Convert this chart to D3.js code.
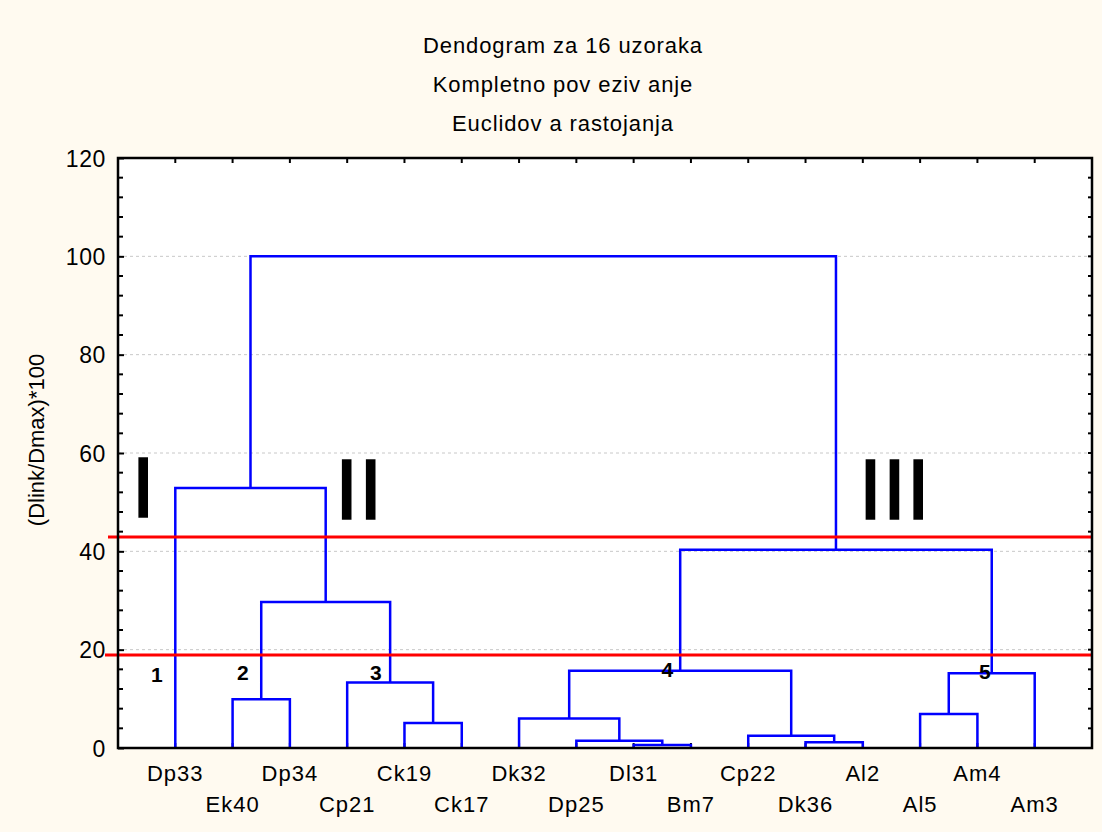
<!DOCTYPE html>
<html>
<head>
<meta charset="utf-8">
<script src="https://cdn.jsdelivr.net/npm/d3@7"></script>
<style>
  body { margin: 0; background: #fffaf0; }
  text { font-family: "Liberation Sans", Arial, sans-serif; fill: #000; }
</style>
</head>
<body>
<div id="chart"></div>
<script>
// ---- data ----
var titleLines = ["Dendogram za 16 uzoraka", "Kompletno pov eziv anje", "Euclidov a rastojanja"];
var yTitle = "(Dlink/Dmax)*100";
var leaves = ["Dp33","Ek40","Dp34","Cp21","Ck19","Ck17","Dk32","Dp25","Dl31","Bm7","Cp22","Dk36","Al2","Al5","Am4","Am3"];
// merges: [child a, child b, height]; ids < 16 are leaves, merge k gets id 16+k
var merges = [
  [4, 5, 5.1],
  [8, 9, 0.6],
  [11, 12, 1.15],
  [7, 17, 1.5],
  [10, 18, 2.5],
  [6, 19, 6.0],
  [13, 14, 6.9],
  [1, 2, 9.9],
  [3, 16, 13.3],
  [22, 15, 15.2],
  [21, 20, 15.7],
  [23, 24, 29.7],
  [26, 25, 40.3],
  [0, 27, 52.9],
  [29, 28, 100]
];
var yTicks = [0, 20, 40, 60, 80, 100, 120];
var cutLevels = [42.9, 18.9];
var groupNames = ["I", "II", "III"];
var groupPos = [[0.44, 46.9], [4.2, 46.5], [13.55, 46.5]];   // leaf units, value
var clusterNums = ["1", "2", "3", "4", "5"];
var clusterPos = [[0.68, 13.5], [2.18, 13.8], [4.5, 13.8], [9.59, 14.4], [15.13, 14.0]];

// ---- layout ----
var W = 1102, H = 832;
var pLeft = 118, pRight = 1092, pTop = 158, pBottom = 748;

var svg = d3.select('#chart').append('svg').attr('width', W).attr('height', H);
svg.append('rect').attr('width', W).attr('height', H).attr('fill', '#fffaf0');

var x = d3.scaleLinear().domain([0, leaves.length + 1]).range([pLeft, pRight]);
var y = d3.scaleLinear().domain([0, 120]).range([pBottom, pTop]);

// plot area
svg.append('rect').attr('x', pLeft).attr('y', pTop).attr('width', pRight - pLeft).attr('height', pBottom - pTop)
   .attr('fill', '#fff');

// grid lines
svg.append('g').selectAll('line').data(yTicks.filter(function(d){ return d > 0 && d < 120; }))
  .enter().append('line')
  .attr('x1', pLeft).attr('x2', pRight)
  .attr('y1', function(d){ return y(d); }).attr('y2', function(d){ return y(d); })
  .attr('stroke', '#c8c8c8').attr('stroke-width', 1).attr('stroke-dasharray', '3,3');

// title
svg.append('g').selectAll('text').data(titleLines).enter().append('text')
  .attr('x', 563).attr('y', function(d, i){ return 53 + i * 39; })
  .attr('text-anchor', 'middle').style('font-size', '22px').style('letter-spacing', '0.9px')
  .text(function(d){ return d; });

// y title
svg.append('text')
  .attr('transform', 'translate(44,' + 440 + ') rotate(-90)')
  .attr('text-anchor', 'middle').style('font-size', '22px')
  .text(yTitle);

// y axis (ticks inside)
var yAxis = d3.axisLeft(y).tickValues(yTicks).tickSize(-6).tickPadding(12);
var gy = svg.append('g').attr('transform', 'translate(' + pLeft + ',0)').call(yAxis);
gy.select('.domain').remove();
gy.selectAll('line').attr('stroke', '#000').attr('stroke-width', 2);
gy.selectAll('text').style('font-size', '23px').style('font-family', '"Liberation Sans", Arial, sans-serif')
  .style('letter-spacing', '0.6px').attr('dy', '0.36em');

// minor ticks (every 4) left and right
var minor = d3.range(0, 121, 4).filter(function(d){ return d % 20 !== 0; });
svg.append('g').selectAll('line').data(minor).enter().append('line')
  .attr('x1', pLeft).attr('x2', pLeft + 5)
  .attr('y1', function(d){ return y(d); }).attr('y2', function(d){ return y(d); })
  .attr('stroke', '#000').attr('stroke-width', 2);
svg.append('g').selectAll('line').data(d3.range(0, 121, 4)).enter().append('line')
  .attr('x1', pRight).attr('x2', pRight - 4)
  .attr('y1', function(d){ return y(d); }).attr('y2', function(d){ return y(d); })
  .attr('stroke', '#000').attr('stroke-width', 2);

// leaf ticks bottom and top
var leafIdx = d3.range(1, leaves.length + 1);
svg.append('g').selectAll('line').data(leafIdx).enter().append('line')
  .attr('x1', function(d){ return x(d); }).attr('x2', function(d){ return x(d); })
  .attr('y1', pBottom).attr('y2', pBottom - 5)
  .attr('stroke', '#000').attr('stroke-width', 2);
svg.append('g').selectAll('line').data(leafIdx).enter().append('line')
  .attr('x1', function(d){ return x(d); }).attr('x2', function(d){ return x(d); })
  .attr('y1', pTop).attr('y2', pTop + 5)
  .attr('stroke', '#000').attr('stroke-width', 2);

// leaf labels, alternating rows
svg.append('g').selectAll('text').data(leaves).enter().append('text')
  .attr('x', function(d, i){ return x(i + 1); })
  .attr('y', function(d, i){ return i % 2 === 0 ? 781 : 812; })
  .attr('text-anchor', 'middle').style('font-size', '22px').style('letter-spacing', '1px')
  .text(function(d){ return d; });

// ---- dendrogram ----
var nodes = leaves.map(function(d, i){ return { pos: i + 1, h: 0 }; });
var links = [];
merges.forEach(function(m){
  var a = nodes[m[0]], b = nodes[m[1]];
  links.push({ a: a, b: b, h: m[2] });
  nodes.push({ pos: (a.pos + b.pos) / 2, h: m[2] });
});

svg.append('g').selectAll('path').data(links).enter().append('path')
  .attr('d', function(l){
    return 'M' + x(l.a.pos) + ',' + y(l.a.h) + 'V' + y(l.h) + 'H' + x(l.b.pos) + 'V' + y(l.b.h);
  })
  .attr('fill', 'none').attr('stroke', '#0000ff').attr('stroke-width', 2.5);

// cut lines
svg.append('g').selectAll('line').data(cutLevels).enter().append('line')
  .attr('x1', function(d, i){ return i === 0 ? 108 : 105; }).attr('x2', pRight)
  .attr('y1', function(d){ return y(d); }).attr('y2', function(d){ return y(d); })
  .attr('stroke', '#ff0000').attr('stroke-width', 3);

// plot border
svg.append('rect').attr('x', pLeft).attr('y', pTop).attr('width', pRight - pLeft).attr('height', pBottom - pTop)
  .attr('fill', 'none').attr('stroke', '#000').attr('stroke-width', 2.5);

// group roman numerals
svg.append('g').selectAll('text').data(groupNames).enter().append('text')
  .attr('x', function(d, i){ return x(groupPos[i][0]); })
  .attr('y', function(d, i){ return y(groupPos[i][1]); })
  .attr('text-anchor', 'middle').style('font-size', '86px')
  .attr('stroke', '#000').attr('stroke-width', 1.6)
  .text(function(d){ return d; });

// cluster numbers
svg.append('g').selectAll('text').data(clusterNums).enter().append('text')
  .attr('x', function(d, i){ return x(clusterPos[i][0]); })
  .attr('y', function(d, i){ return y(clusterPos[i][1]); })
  .attr('text-anchor', 'middle').style('font-size', '21px').style('font-weight', 'bold')
  .text(function(d){ return d; });
</script>
</body>
</html>
